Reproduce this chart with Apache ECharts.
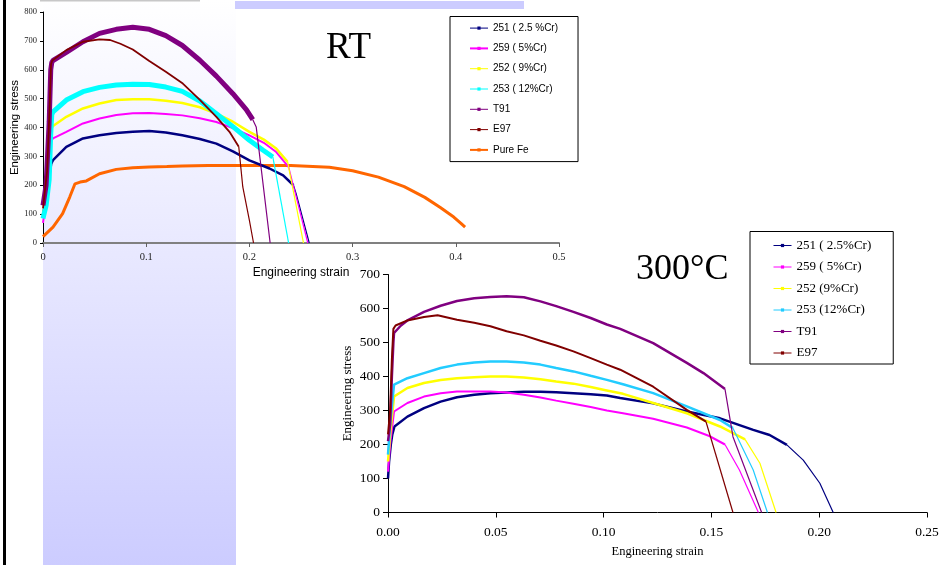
<!DOCTYPE html>
<html>
<head>
<meta charset="utf-8">
<title>Engineering stress vs strain, RT and 300°C</title>
<script src="https://cdn.jsdelivr.net/npm/echarts@6/dist/echarts.min.js"></script>
<style>
  html, body { margin: 0; padding: 0; background: #fff; }
  #chart { width: 943px; height: 565px; }
</style>
</head>
<body>
<div id="chart"></div>
<script>
const SERIF = '"Liberation Serif", "Times New Roman", serif';
const SANS = '"Liberation Sans", Arial, sans-serif';

// legend names (the two slides were typed a bit differently)
const rtNames = ['251 ( 2.5 %Cr)', '259 ( 5%Cr)', '252 ( 9%Cr)', '253 ( 12%Cr)', 'T91', 'E97', 'Pure Fe'];
const hotNames = ['251 ( 2.5%Cr)', '259 ( 5%Cr)', '252 (9%Cr)', '253 (12%Cr)', 'T91', 'E97'];

const colors = {
  c251: '#000080', c259: '#ff00ff', c252: '#ffff00', c253: '#00ffff',
  c253hot: '#22ccff', t91: '#800080', e97: '#800000', fe: '#ff6600'
};

// ---- RT curves: [strain, stress] ----
const rt251 = [[0,100],[0.003,150],[0.006,230],[0.008,275],[0.0097,287],[0.0226,333],[0.0387,362],[0.0548,373],[0.071,381],[0.087,385],[0.103,388],[0.119,383],[0.135,373],[0.152,360],[0.168,344],[0.184,317],[0.2,286],[0.2195,258],[0.2327,234],[0.2427,200]];
const rt251Tail = [[0.2427,200],[0.2453,171],[0.258,0]];

const rt259 = [[0,70],[0.002,120],[0.004,240],[0.005,338],[0.0097,362],[0.0226,385],[0.0387,414],[0.0548,431],[0.071,443],[0.087,449],[0.103,450],[0.119,447],[0.135,442],[0.152,432],[0.168,419],[0.184,398],[0.2,373],[0.214,347],[0.226,315],[0.2381,263]];
const rt259Tail = [[0.2381,263],[0.2566,0]];

const rt252 = [[0,95],[0.003,160],[0.005,250],[0.007,360],[0.008,398],[0.0097,405],[0.0226,437],[0.0387,466],[0.0548,483],[0.071,495],[0.087,498],[0.103,498],[0.119,493],[0.135,485],[0.152,470],[0.168,448],[0.184,420],[0.2,385],[0.214,358],[0.226,327],[0.237,281]];
const rt252Tail = [[0.237,281],[0.2524,0]];

const rt253 = [[0,85],[0.003,130],[0.006,220],[0.0075,380],[0.0085,445],[0.0097,454],[0.0226,495],[0.0387,524],[0.0548,539],[0.071,547],[0.087,550],[0.103,549],[0.119,540],[0.135,525],[0.152,492],[0.168,448],[0.184,403],[0.2,356],[0.213,322],[0.2227,298]];
const rt253Tail = [[0.2227,298],[0.238,0]];

const rtT91 = [[0,130],[0.003,200],[0.006,420],[0.0075,600],[0.0085,625],[0.0097,632],[0.0226,660],[0.0387,697],[0.0548,726],[0.071,740],[0.087,747],[0.103,740],[0.119,718],[0.135,684],[0.152,633],[0.168,578],[0.184,517],[0.197,462],[0.2033,427]];
const rtT91Tail = [[0.2033,427],[0.2066,402],[0.2201,0]];

const rtE97 = [[0,120],[0.004,250],[0.0065,480],[0.0078,620],[0.009,632],[0.0226,668],[0.0387,697],[0.0548,705],[0.065,703],[0.075,690],[0.087,670],[0.103,630],[0.119,593],[0.1355,552],[0.152,496],[0.168,437],[0.1807,385],[0.1897,333]];
const rtE97Tail = [[0.1897,333],[0.1936,194],[0.2,78],[0.204,0]];

const rtFe = [[0,22],[0.0097,55],[0.019,102],[0.026,160],[0.031,205],[0.036,211],[0.042,215],[0.0548,240],[0.071,255],[0.087,261],[0.103,263],[0.12,265],[0.135,267],[0.16,268],[0.2,268],[0.24,268],[0.2775,262],[0.3,250],[0.325,228],[0.35,195],[0.37,158],[0.385,123],[0.398,90],[0.405,68],[0.409,55]];

// ---- 300°C curves ----
const hot251 = [[0,100],[0.0005,150],[0.0013,200],[0.002,230],[0.003,253],[0.009,282],[0.0167,307],[0.0244,326],[0.032,339],[0.04,346],[0.0475,351],[0.055,353],[0.063,355],[0.0707,355],[0.078,354],[0.086,351],[0.094,348],[0.1015,344],[0.1077,337],[0.123,321],[0.1386,297],[0.154,277],[0.1694,243],[0.177,228],[0.185,199]];
const hot251Tail = [[0.185,199],[0.1926,154],[0.2003,86],[0.2065,0]];

const hot259 = [[0,120],[0.001,200],[0.0028,297],[0.009,322],[0.0167,341],[0.0244,351],[0.032,356],[0.04,356],[0.0475,356],[0.055,353],[0.063,346],[0.0707,338],[0.078,329],[0.086,320],[0.094,310],[0.1015,300],[0.109,292],[0.123,276],[0.1386,250],[0.149,225],[0.1563,200]];
const hot259Tail = [[0.1563,200],[0.163,125],[0.1718,0]];

const hot252 = [[0,150],[0.001,230],[0.0028,341],[0.009,366],[0.0167,381],[0.0244,390],[0.032,395],[0.04,398],[0.0475,400],[0.055,400],[0.063,397],[0.0707,392],[0.078,385],[0.086,379],[0.094,369],[0.1015,359],[0.109,349],[0.123,322],[0.1386,292],[0.154,253],[0.1656,215]];
const hot252Tail = [[0.1656,215],[0.1725,145],[0.18,0]];

const hot253 = [[0,170],[0.001,260],[0.0028,376],[0.009,395],[0.0167,410],[0.0244,425],[0.032,435],[0.04,441],[0.0475,444],[0.055,444],[0.063,441],[0.0707,435],[0.078,425],[0.086,415],[0.094,402],[0.1015,390],[0.109,377],[0.123,351],[0.1386,312],[0.154,272],[0.16,248]];
const hot253Tail = [[0.16,248],[0.1694,125],[0.176,0]];

const hotT91 = [[0,210],[0.001,260],[0.0018,400],[0.0025,500],[0.0028,528],[0.006,550],[0.009,565],[0.0167,590],[0.0244,608],[0.032,622],[0.04,630],[0.0475,634],[0.055,636],[0.063,633],[0.0707,621],[0.078,607],[0.086,590],[0.094,572],[0.1015,553],[0.1077,540],[0.123,498],[0.1386,440],[0.1463,410],[0.1563,363]];
const hotT91Tail = [[0.1563,363],[0.16,223],[0.1733,0]];

const hotE97 = [[0,230],[0.001,300],[0.0018,450],[0.0025,540],[0.0035,550],[0.009,565],[0.0167,575],[0.023,580],[0.032,567],[0.04,558],[0.0475,548],[0.055,533],[0.063,521],[0.0707,505],[0.078,491],[0.086,474],[0.094,454],[0.1015,435],[0.1077,420],[0.123,370],[0.1386,302],[0.1475,267]];
const hotE97Tail = [[0.1475,267],[0.16,0]];

function curve(name, pts, color, width, grid) {
  return {
    type: 'line',
    name: name,
    data: pts,
    xAxisIndex: grid,
    yAxisIndex: grid,
    symbol: 'rect',
    symbolSize: 3,
    showSymbol: false,
    silent: true,
    lineStyle: { color: color, width: width },
    itemStyle: { color: color, borderWidth: 0 }
  };
}

// thin part after necking, no legend entry
function tail(pts, color, grid) {
  const s = curve(undefined, pts, color, 1.2, grid);
  delete s.name;
  return s;
}

const series = [
  curve(rtNames[6], rtFe, colors.fe, 3, 0),
  curve(rtNames[0], rt251, colors.c251, 2.5, 0), tail(rt251Tail, colors.c251, 0),
  curve(rtNames[1], rt259, colors.c259, 2, 0), tail(rt259Tail, colors.c259, 0),
  curve(rtNames[2], rt252, colors.c252, 2.5, 0), tail(rt252Tail, colors.c252, 0),
  curve(rtNames[3], rt253, colors.c253, 5, 0), tail(rt253Tail, colors.c253, 0),
  curve(rtNames[4], rtT91, colors.t91, 5, 0), tail(rtT91Tail, colors.t91, 0),
  curve(rtNames[5], rtE97, colors.e97, 1.8, 0), tail(rtE97Tail, colors.e97, 0),

  curve(hotNames[0], hot251, colors.c251, 2.5, 1), tail(hot251Tail, colors.c251, 1),
  curve(hotNames[1], hot259, colors.c259, 2, 1), tail(hot259Tail, colors.c259, 1),
  curve(hotNames[2], hot252, colors.c252, 2.5, 1), tail(hot252Tail, colors.c252, 1),
  curve(hotNames[3], hot253, colors.c253hot, 2.5, 1), tail(hot253Tail, colors.c253hot, 1),
  curve(hotNames[4], hotT91, colors.t91, 2.5, 1), tail(hotT91Tail, colors.t91, 1),
  curve(hotNames[5], hotE97, colors.e97, 2, 1), tail(hotE97Tail, colors.e97, 1)
];

const blackLine = { lineStyle: { color: '#000', width: 1 } };

const option = {
  animation: false,
  backgroundColor: '#fff',
  grid: [
    { left: 43, top: 12, width: 516, height: 231, containLabel: false, outerBoundsMode: 'none' },
    { left: 388, top: 274.5, width: 539, height: 238, containLabel: false, outerBoundsMode: 'none' }
  ],
  xAxis: [
    {
      gridIndex: 0, type: 'value', min: 0, max: 0.5, interval: 0.1,
      name: 'Engineering strain', nameLocation: 'middle', nameGap: 24, nameMoveOverlap: false,
      nameTextStyle: { fontFamily: SANS, fontSize: 12, color: '#000' },
      axisLine: { show: true, onZero: false, lineStyle: { color: '#808080', width: 2 } },
      axisTick: { show: true, length: 4, lineStyle: { color: '#606060' } },
      axisLabel: { fontFamily: SERIF, fontSize: 10.5, color: '#222', margin: 9 },
      splitLine: { show: false }
    },
    {
      gridIndex: 1, type: 'value', min: 0, max: 0.25, interval: 0.05,
      name: 'Engineering strain', nameLocation: 'middle', nameGap: 33, nameMoveOverlap: false,
      nameTextStyle: { fontFamily: SERIF, fontSize: 12.5, color: '#000' },
      axisLine: { show: true, onZero: false, lineStyle: { color: '#000', width: 1 } },
      axisTick: { show: true, length: 5, lineStyle: { color: '#000' } },
      axisLabel: { fontFamily: SERIF, fontSize: 13.5, color: '#000', margin: 13,
        formatter: v => v.toFixed(2) },
      splitLine: { show: false }
    }
  ],
  yAxis: [
    {
      gridIndex: 0, type: 'value', min: 0, max: 800, interval: 100,
      name: 'Engineering stress', nameLocation: 'middle', nameGap: 22, nameMoveOverlap: false,
      nameTextStyle: { fontFamily: SANS, fontSize: 11.5, color: '#000' },
      axisLine: Object.assign({ show: true, onZero: false }, blackLine),
      axisTick: { show: true, length: 3, lineStyle: { color: '#000' } },
      axisLabel: { fontFamily: SERIF, fontSize: 8.5, color: '#222', margin: 6 },
      splitLine: { show: false }
    },
    {
      gridIndex: 1, type: 'value', min: 0, max: 700, interval: 100,
      name: 'Engineering stress', nameLocation: 'middle', nameGap: 34, nameMoveOverlap: false,
      nameTextStyle: { fontFamily: SERIF, fontSize: 13, color: '#000' },
      axisLine: Object.assign({ show: true, onZero: false }, blackLine),
      axisTick: { show: true, length: 5, lineStyle: { color: '#000' } },
      axisLabel: { fontFamily: SERIF, fontSize: 13.5, color: '#000', margin: 8 },
      splitLine: { show: false }
    }
  ],
  legend: [
    {
      data: rtNames.map((n, i) => ({ name: n, lineStyle: { width: (i === 1 || i === 6) ? 2 : 1 } })),
      orient: 'vertical', left: 450, top: 16.5,
      itemWidth: 18, itemHeight: 4, itemGap: 8.3,
      padding: [5.6, 20, 5.7, 19],
      backgroundColor: '#fff', borderColor: '#000', borderWidth: 1, borderRadius: 0,
      textStyle: { fontFamily: SANS, fontSize: 10, color: '#000', lineHeight: 12 },
      lineStyle: { width: 1 }, itemStyle: { borderWidth: 0 },
      selectedMode: false
    },
    {
      data: hotNames.map(n => ({ name: n })),
      orient: 'vertical', left: 750, top: 231.5,
      itemWidth: 18, itemHeight: 4, itemGap: 6.5,
      padding: [6.5, 22, 3.5, 23],
      backgroundColor: '#fff', borderColor: '#000', borderWidth: 1, borderRadius: 0,
      textStyle: { fontFamily: SERIF, fontSize: 13, color: '#000', lineHeight: 15 },
      lineStyle: { width: 1 }, itemStyle: { borderWidth: 0 },
      selectedMode: false
    }
  ],
  graphic: [
    {
      type: 'rect', z: -10, silent: true,
      shape: { x: 43, y: 0, width: 193, height: 565 },
      style: { fill: new echarts.graphic.LinearGradient(0, 0, 0, 1, [
        { offset: 0, color: '#ffffff' }, { offset: 1, color: '#ccccff' }]) }
    },
    { type: 'rect', z: -10, silent: true, shape: { x: 235, y: 1, width: 289, height: 8 }, style: { fill: '#ccccff' } },
    { type: 'rect', z: -10, silent: true, shape: { x: 3, y: 0, width: 3, height: 565 }, style: { fill: '#000' } },
    { type: 'rect', z: -10, silent: true, shape: { x: 40, y: 0, width: 160, height: 1.5 }, style: { fill: '#c8c8c8' } },
    {
      type: 'text', z: 10, x: 326, y: 48,
      style: { text: 'RT', fontFamily: SERIF, fontSize: 37, fill: '#000', verticalAlign: 'middle' }
    },
    {
      type: 'text', z: 10, x: 636, y: 270,
      style: { text: '300°C', fontFamily: SERIF, fontSize: 36, fill: '#000', verticalAlign: 'middle' }
    }
  ],
  series: series
};

const chart = echarts.init(document.getElementById('chart'));
chart.setOption(option);
</script>
</body>
</html>
